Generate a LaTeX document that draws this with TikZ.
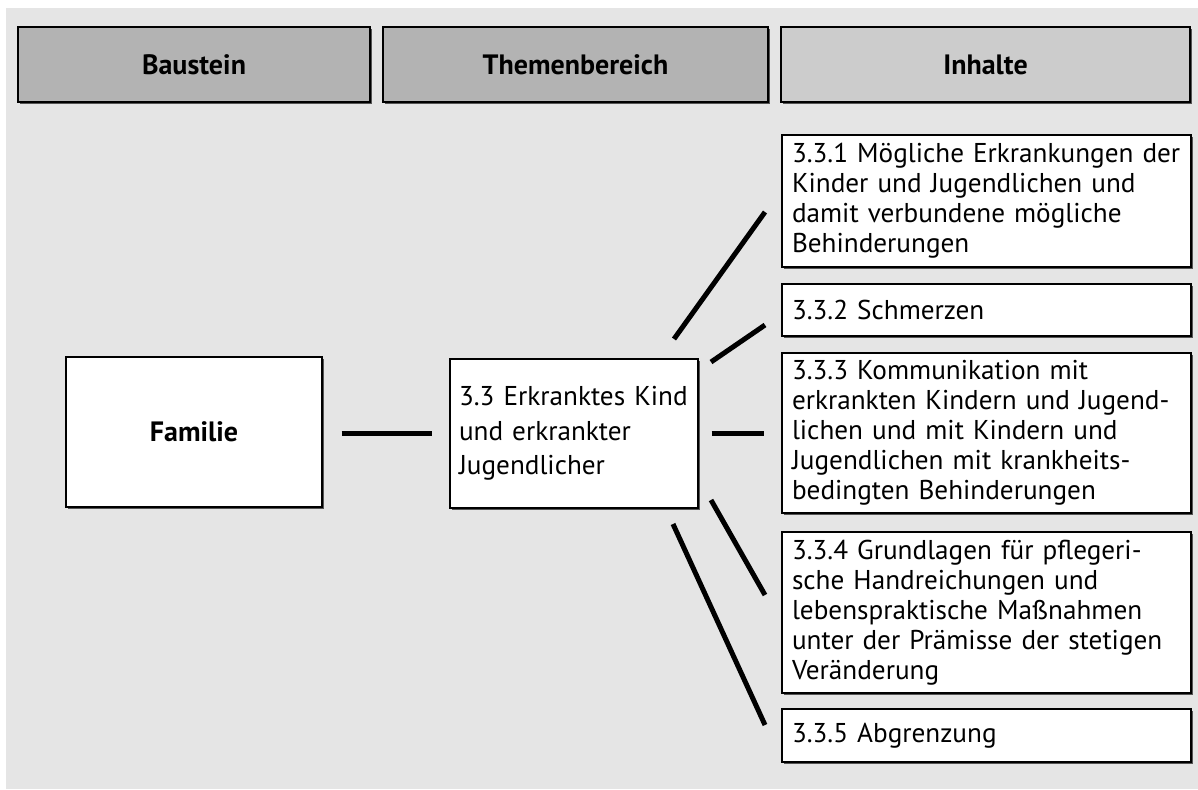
\documentclass[tikz,border=0pt]{standalone}
\usepackage{fontspec}
\setmainfont{PT Sans}
\usetikzlibrary{shadows}

\definecolor{bggray}{HTML}{E5E5E5}
\definecolor{headdark}{HTML}{B3B3B3}
\definecolor{headlight}{HTML}{CCCCCC}
\definecolor{shadowgray}{HTML}{555555}

\begin{document}
\begin{tikzpicture}[x=0.5pt,y=-0.5pt,
  boxbase/.style={draw=black, line width=0.6pt, inner ysep=0pt,
    drop shadow={shadow xshift=0.8pt, shadow yshift=-0.8pt, fill=shadowgray, opacity=1}},
  headbox/.style={boxbase, fill=headdark, minimum height=37.5pt,
    font=\bfseries\fontsize{14}{16}\selectfont},
  topicbox/.style={boxbase, fill=white, inner xsep=5pt, text width=194.5pt,
    minimum height=#1, align=left, font=\fontsize{13.6}{15}\selectfont},
  connector/.style={line width=2.5pt, black}
]
  % page and grey panel
  \useasboundingbox (0,0) rectangle (1198,789);
  \fill[bggray] (6,8) rectangle (1198,789);

  % column headings
  \node[headbox, minimum width=176pt] (hbau) at (194,64.5) {Baustein};
  \node[headbox, minimum width=192.5pt] (hthe) at (575.5,64.5) {Themenbereich};
  \node[headbox, fill=headlight, minimum width=204.5pt] (hinh) at (985.5,64.5) {Inhalte};

  % building block and topic area
  \node[boxbase, fill=white, minimum width=128pt, minimum height=75pt,
    font=\bfseries\fontsize{14}{16}\selectfont] (fam) at (194,432) {Familie};
  \node[boxbase, fill=white, inner xsep=4.5pt, text width=115pt, minimum height=74.5pt,
    align=left, font=\fontsize{13.6}{17.25}\selectfont] (mid) at (574,433.5)
    {3.3 Erkranktes Kind\\und erkrankter\\Jugendlicher};

  % contents
  \node[topicbox=66pt] (r1) at (986.5,201)
    {3.3.1 Mögliche Erkrankungen der\\Kinder und Jugendlichen und\\damit verbundene mögliche\\Behinderungen};
  \node[topicbox=26pt] (r2) at (986.5,310) {3.3.2 Schmerzen};
  \node[topicbox=80pt] (r3) at (986.5,433)
    {3.3.3 Kommunikation mit\\erkrankten Kindern und Jugend-\\lichen und mit Kindern und\\Jugendlichen mit krankheits-\\bedingten Behinderungen};
  \node[topicbox=80.5pt] (r4) at (986.5,612.5)
    {3.3.4 Grundlagen für pflegeri-\\sche Handreichungen und\\lebenspraktische Maßnahmen\\unter der Prämisse der stetigen\\Veränderung};
  \node[topicbox=26.5pt] (r5) at (986.5,735.5) {3.3.5 Abgrenzung};

  % free ends of the fan of connectors
  \coordinate (m1) at (674,339);  \coordinate (e1) at (765,212);
  \coordinate (m2) at (711,362);  \coordinate (e2) at (765,325);
  \coordinate (m4) at (711,500);  \coordinate (e4) at (765,595);
  \coordinate (m5) at (673,524);  \coordinate (e5) at (765,725);

  % connectors
  \draw[connector, shorten <=9.5pt, shorten >=8.5pt] (fam.east |- mid.west) -- (mid.west);
  \draw[connector] (m1) -- (e1);
  \draw[connector] (m2) -- (e2);
  \draw[connector, shorten <=6.5pt, shorten >=8.5pt] (mid.east |- r3.west) -- (r3.west);
  \draw[connector] (m4) -- (e4);
  \draw[connector] (m5) -- (e5);
\end{tikzpicture}
\end{document}
